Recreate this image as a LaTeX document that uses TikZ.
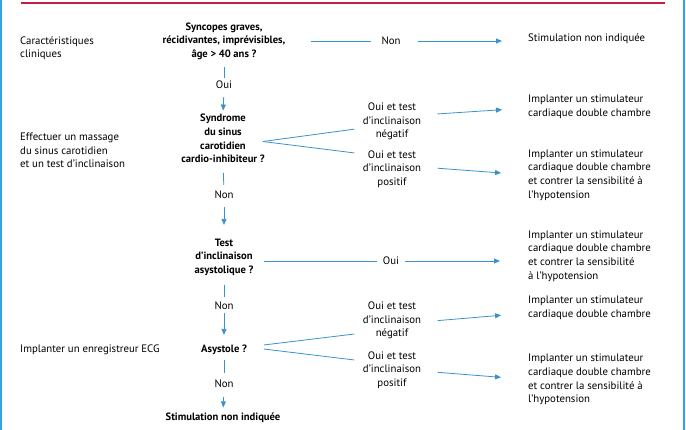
\documentclass[tikz,border=0pt]{standalone}
\usepackage{fontspec}
\setmainfont{PT Sans}
\usetikzlibrary{arrows.meta}
\definecolor{lineblue}{HTML}{3A92CC}
\definecolor{frameblue}{HTML}{2BA6DE}
\definecolor{rulered}{HTML}{C41E45}
\begin{document}
\begin{tikzpicture}[x=1pt,y=-1pt,
  txt/.style={font=\fontsize{10.8}{13.6}\selectfont, inner sep=0pt, align=center},
  ltxt/.style={txt, align=left, anchor=west},
  btxt/.style={txt, font=\fontsize{10.6}{13.6}\selectfont\bfseries},
  conn/.style={draw=lineblue, line width=0.8pt},
  arr/.style={conn, -{Triangle[length=6pt,width=5pt]}}]
\useasboundingbox (0,0) rectangle (686,430);
\draw[frameblue, line width=1.5pt] (1,0) -- (1,430);
\draw[frameblue, line width=1.5pt] (684,0) -- (684,430);
\draw[rulered, line width=1.2pt] (21,3) -- (665,3);

% left column
\node[ltxt] (left1) at (20,48) {Caractéristiques\\cliniques};
\node[ltxt] (left2) at (20,150.5) {Effectuer un massage\\du sinus carotidien\\et un test d'inclinaison};
\node[ltxt] (left3) at (20,350) {Implanter un enregistreur ECG};

% central column
\node[btxt] (n1) at (224,41) {Syncopes graves,\\récidivantes, imprévisibles,\\âge > 40 ans ?};
\node[txt] (oui1) at (224,85) {Oui};
\node[btxt] (n2) at (223,138.5) {Syndrome\\du sinus\\carotidien\\cardio-inhibiteur ?};
\node[txt] (non2) at (224,195) {Non};
\node[btxt] (n3) at (224,257) {Test\\d'inclinaison\\asystolique ?};
\node[txt] (non3) at (224,306) {Non};
\node[btxt] (n4) at (224,349.5) {Asystole ?};
\node[txt] (non4) at (224,384) {Non};
\node[btxt] (r7) at (223,418) {Stimulation non indiquée};

% middle labels
\node[txt] (non1) at (391,41) {Non};
\node[txt] (a2) at (392,121.5) {Oui et test\\d'inclinaison\\négatif};
\node[txt] (b2) at (392,169) {Oui et test\\d'inclinaison\\positif};
\node[txt] (oui3) at (391,261) {Oui};
\node[txt] (a4) at (392,320.5) {Oui et test\\d'inclinaison\\négatif};
\node[txt] (b4) at (392,370) {Oui et test\\d'inclinaison\\positif};

% right column
\node[ltxt] (r1) at (528,38.5) {Stimulation non indiquée};
\node[ltxt] (r2) at (528,107) {Implanter un stimulateur\\cardiaque double chambre};
\node[ltxt] (r3) at (528,175) {Implanter un stimulateur\\cardiaque double chambre\\et contrer la sensibilité à\\l'hypotension};
\node[ltxt] (r4) at (528,256) {Implanter un stimulateur\\cardiaque double chambre\\et contrer la sensibilité\\à l'hypotension};
\node[ltxt] (r5) at (528,307.5) {Implanter un stimulateur\\cardiaque double chambre};
\node[ltxt] (r6) at (528,379.5) {Implanter un stimulateur\\cardiaque double chambre\\et contrer la sensibilité à\\l'hypotension};

% connectors: row 1
\draw[conn, shorten <=25pt, shorten >=10pt] (n1.east) -- (non1.west);
\draw[arr, shorten <=17pt, shorten >=26pt] (non1.east) -- (r1.west |- non1.east);
% vertical chain
\draw[conn, shorten <=7.5pt, shorten >=3pt] (n1.south) -- (oui1.north);
\draw[arr, shorten <=8pt, shorten >=3.5pt] (oui1.south) -- (n2.north);
\draw[conn, shorten <=10pt, shorten >=6pt] (n2.south) -- (non2.north);
\draw[arr, shorten <=8pt, shorten >=13.5pt] (non2.south) -- (n3.north);
\draw[conn, shorten <=9pt, shorten >=5pt] (n3.south) -- (non3.north);
\draw[arr, shorten <=3pt, shorten >=9.5pt] (non3.south) -- (n4.north);
\draw[conn, shorten <=5pt, shorten >=7pt] (n4.south) -- (non4.north);
\draw[arr, shorten <=9pt, shorten >=5.5pt] (non4.south) -- (r7.north);
% fork n2
\draw[conn, shorten >=8.5pt] ([xshift=-2pt,yshift=-3pt]n2.east) -- ([yshift=-6.5pt]a2.west);
\draw[conn, shorten >=8.5pt] ([xshift=-2pt,yshift=-3pt]n2.east) -- ([yshift=15pt]b2.west);
\draw[arr, shorten <=16.5pt, shorten >=26pt] ([yshift=6.5pt]a2.east) -- ([yshift=-1pt]r2.west);
\draw[arr, shorten <=16.5pt, shorten >=27pt] ([yshift=2pt]b2.east) -- (r3.west);
% row n3
\draw[conn, shorten <=10pt, shorten >=6pt] ([yshift=-4pt]n3.east) -- (oui3.west);
\draw[arr, shorten <=6pt, shorten >=28pt] (oui3.east) -- (r4.west |- oui3.east);
% fork n4
\draw[conn, shorten <=17pt, shorten >=8.5pt] ([yshift=2.5pt]n4.east) -- ([yshift=-12.5pt]a4.west);
\draw[conn, shorten <=17pt, shorten >=8.5pt] ([yshift=2.5pt]n4.east) -- ([yshift=9pt]b4.west);
\draw[arr, shorten <=16.5pt, shorten >=27pt] ([yshift=-1.5pt]a4.east) -- ([yshift=-5.5pt]r5.west);
\draw[arr, shorten <=16.5pt, shorten >=27pt] ([yshift=-1pt]b4.east) -- (r6.west);
\end{tikzpicture}
\end{document}
